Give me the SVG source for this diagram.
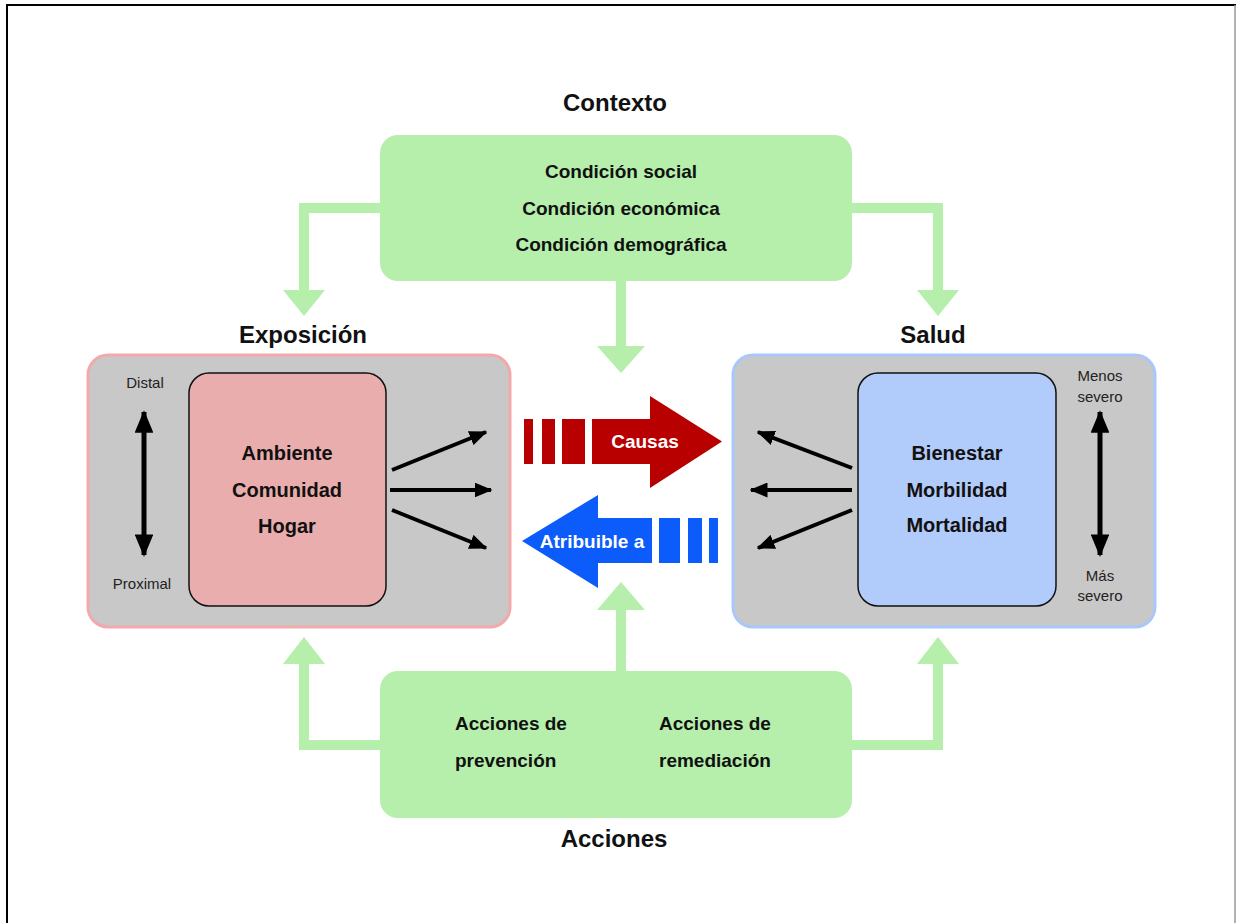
<svg xmlns="http://www.w3.org/2000/svg" width="1236" height="923" viewBox="0 0 1236 923">
  <defs>
    <marker id="head" viewBox="0 0 12 10" refX="11" refY="5" markerWidth="4.5" markerHeight="3.75" orient="auto" markerUnits="strokeWidth">
      <path d="M0,0 L12,5 L0,10 Z" fill="#000"/>
    </marker>
    <marker id="headStart" viewBox="0 0 12 10" refX="11" refY="5" markerWidth="4.5" markerHeight="3.75" orient="auto-start-reverse" markerUnits="strokeWidth">
      <path d="M0,0 L12,5 L0,10 Z" fill="#000"/>
    </marker>
    <style>
      .title { font-family: "Liberation Sans", Arial, sans-serif; font-weight: bold; font-size: 24px; fill: #111; text-anchor: middle; }
      .boxtxt { font-family: "Liberation Sans", Arial, sans-serif; font-weight: bold; font-size: 20px; fill: #111; text-anchor: middle; }
      .ctx { font-family: "Liberation Sans", Arial, sans-serif; font-weight: bold; font-size: 19px; fill: #111; }
      .small { font-family: "Liberation Sans", Arial, sans-serif; font-size: 15px; fill: #222; text-anchor: middle; }
      .arrtxt { font-family: "Liberation Sans", Arial, sans-serif; font-weight: bold; font-size: 19px; fill: #fff; text-anchor: middle; }
      .green { fill: #b5efab; }
      .gline { fill: none; stroke: #b5efab; stroke-width: 10; stroke-linejoin: miter; }
      .outer { fill: #c8c8c8; stroke-width: 3; }
      .inner { stroke: #111; stroke-width: 1.5; }
      .black { stroke: #000; stroke-width: 4; fill: none; }
      .dbl { stroke: #000; stroke-width: 5; fill: none; }
    </style>
  </defs>

  <rect width="1236" height="923" fill="#fff"/>
  <!-- page frame -->
  <line x1="7" y1="5" x2="1236" y2="5" stroke="#000" stroke-width="2"/>
  <line x1="7" y1="4" x2="7" y2="923" stroke="#000" stroke-width="2"/>
  <line x1="1235" y1="5" x2="1235" y2="923" stroke="#999" stroke-width="1.5"/>

  <!-- connectors -->
  <g id="connectors">
    <polyline class="gline" points="382,208 304,208 304,292"/>
    <polygon class="green" points="283,290 325,290 304,316"/>
    <polyline class="gline" points="850,208 938,208 938,292"/>
    <polygon class="green" points="917,290 959,290 938,316"/>
    <line class="gline" x1="621" y1="279" x2="621" y2="348"/>
    <polygon class="green" points="597,346 645,346 621,373"/>

    <polyline class="gline" points="382,745 304,745 304,662"/>
    <polygon class="green" points="283,664 325,664 304,637"/>
    <polyline class="gline" points="850,745 938,745 938,662"/>
    <polygon class="green" points="917,664 959,664 938,637"/>
    <line class="gline" x1="621" y1="673" x2="621" y2="608"/>
    <polygon class="green" points="597,610 645,610 621,582"/>

    <!-- Causas arrow -->
    <g fill="#b80000">
      <rect x="524" y="419" width="9" height="45"/>
      <rect x="542" y="419" width="13" height="45"/>
      <rect x="562" y="419" width="23" height="45"/>
      <polygon points="592,419 650,419 650,396 722,441.5 650,488 650,464 592,464"/>
    </g>
    <text class="arrtxt" x="645" y="448">Causas</text>

    <!-- Atribuible a arrow -->
    <g fill="#0b5cfa">
      <polygon points="652,518 598,518 598,495 522,541 598,588 598,563 652,563"/>
      <rect x="659" y="518" width="21" height="45"/>
      <rect x="688" y="518" width="14" height="45"/>
      <rect x="709" y="518" width="9" height="45"/>
    </g>
    <text class="arrtxt" x="592" y="548">Atribuible a</text>
  </g>

  <!-- Contexto -->
  <g id="contexto">
    <text class="title" x="615" y="111">Contexto</text>
    <rect class="green" x="380" y="135" width="472" height="146" rx="18"/>
    <text class="ctx" x="621" y="178" text-anchor="middle">Condición social</text>
    <text class="ctx" x="621" y="215" text-anchor="middle">Condición económica</text>
    <text class="ctx" x="621" y="251" text-anchor="middle">Condición demográfica</text>
  </g>

  <!-- Exposición -->
  <g id="exposicion">
    <text class="title" x="303" y="343">Exposición</text>
    <rect class="outer" x="88" y="355" width="422" height="272" rx="20" stroke="#f2a9a9"/>
    <rect class="inner" x="189" y="373" width="197" height="233" rx="20" fill="#e9adad"/>
    <text class="boxtxt" x="287" y="460">Ambiente</text>
    <text class="boxtxt" x="287" y="497">Comunidad</text>
    <text class="boxtxt" x="287" y="533">Hogar</text>
    <text class="small" x="145" y="388">Distal</text>
    <text class="small" x="142" y="589">Proximal</text>
    <line class="dbl" x1="144" y1="412" x2="144" y2="555" marker-start="url(#headStart)" marker-end="url(#head)"/>
    <line class="black" x1="392" y1="470" x2="486" y2="432" marker-end="url(#head)"/>
    <line class="black" x1="390" y1="490" x2="491" y2="490" marker-end="url(#head)"/>
    <line class="black" x1="392" y1="510" x2="486" y2="548" marker-end="url(#head)"/>
  </g>

  <!-- Salud -->
  <g id="salud">
    <text class="title" x="933" y="343">Salud</text>
    <rect class="outer" x="733" y="355" width="422" height="272" rx="20" stroke="#a9c8fa"/>
    <rect class="inner" x="858" y="373" width="198" height="233" rx="20" fill="#b1cbfb"/>
    <text class="boxtxt" x="957" y="460">Bienestar</text>
    <text class="boxtxt" x="957" y="497">Morbilidad</text>
    <text class="boxtxt" x="957" y="532">Mortalidad</text>
    <text class="small" x="1100" y="381">Menos</text>
    <text class="small" x="1100" y="402">severo</text>
    <text class="small" x="1100" y="581">Más</text>
    <text class="small" x="1100" y="601">severo</text>
    <line class="dbl" x1="1100" y1="412" x2="1100" y2="555" marker-start="url(#headStart)" marker-end="url(#head)"/>
    <line class="black" x1="852" y1="468" x2="758" y2="432" marker-end="url(#head)"/>
    <line class="black" x1="852" y1="490" x2="751" y2="490" marker-end="url(#head)"/>
    <line class="black" x1="852" y1="510" x2="758" y2="548" marker-end="url(#head)"/>
  </g>

  <!-- Acciones -->
  <g id="acciones">
    <rect class="green" x="380" y="671" width="472" height="147" rx="18"/>
    <text class="ctx" x="455" y="730">Acciones de</text>
    <text class="ctx" x="455" y="767">prevención</text>
    <text class="ctx" x="659" y="730">Acciones de</text>
    <text class="ctx" x="659" y="767">remediación</text>
    <text class="title" x="614" y="847">Acciones</text>
  </g>
</svg>
